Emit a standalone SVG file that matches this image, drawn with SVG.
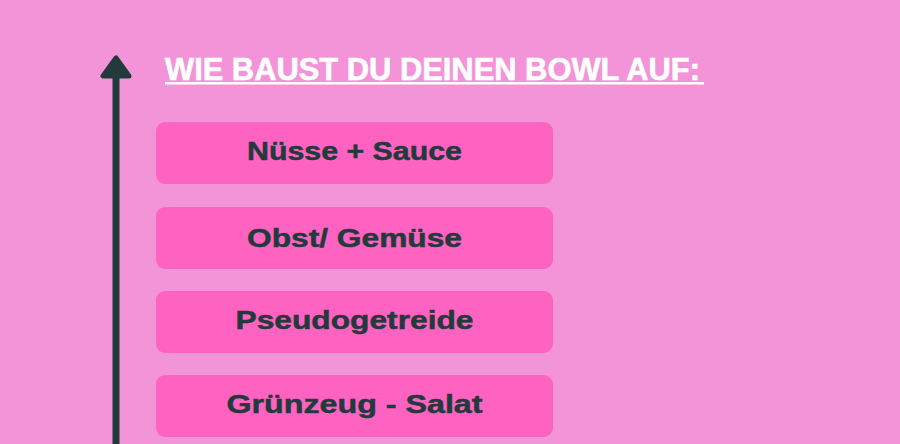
<svg xmlns="http://www.w3.org/2000/svg" width="900" height="444" viewBox="0 0 900 444">
<style>
.box{fill:#ff63c1;}
.lbl{font-family:"Liberation Sans",Arial,sans-serif;font-weight:bold;font-size:26px;fill:#233a3c;stroke:#233a3c;stroke-width:0.5px;text-anchor:middle;}
.title{font-family:"Liberation Sans",Arial,sans-serif;font-weight:bold;font-size:31px;fill:#ffffff;stroke:#ffffff;stroke-width:0.6px;}
</style>
<rect width="900" height="444" fill="#f394d9"/>
<g id="connectors">
<line x1="116" y1="70" x2="116" y2="444" stroke="#233a3c" stroke-width="7"/>
<polygon points="116,58 103,76 129,76" fill="#233a3c" stroke="#233a3c" stroke-width="5" stroke-linejoin="round"/>
</g>
<g id="title">
<text class="title" x="165" y="80" textLength="535" lengthAdjust="spacingAndGlyphs">WIE BAUST DU DEINEN BOWL AUF:</text>
<rect x="165" y="82" width="539" height="2.5" fill="#ffffff"/>
</g>
<g id="n1">
<rect class="box" x="156" y="122" width="397" height="62" rx="9"/>
<text class="lbl" x="354.5" y="160" textLength="215" lengthAdjust="spacingAndGlyphs">Nüsse + Sauce</text>
</g>
<g id="n2">
<rect class="box" x="156" y="207" width="397" height="62" rx="9"/>
<text class="lbl" x="354.5" y="247" textLength="215" lengthAdjust="spacingAndGlyphs">Obst/ Gemüse</text>
</g>
<g id="n3">
<rect class="box" x="156" y="291" width="397" height="62" rx="9"/>
<text class="lbl" x="354.5" y="329" textLength="238" lengthAdjust="spacingAndGlyphs">Pseudogetreide</text>
</g>
<g id="n4">
<rect class="box" x="156" y="375" width="397" height="62" rx="9"/>
<text class="lbl" x="354.5" y="413" textLength="256" lengthAdjust="spacingAndGlyphs">Grünzeug - Salat</text>
</g>
</svg>
